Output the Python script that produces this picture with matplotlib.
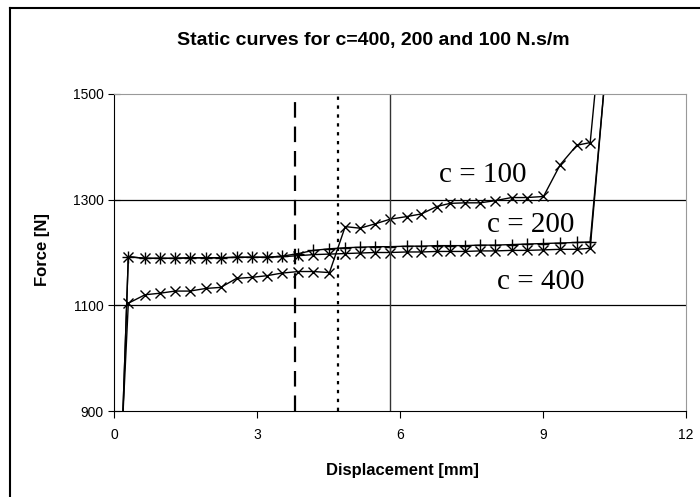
import matplotlib.pyplot as plt
from matplotlib.lines import Line2D

# displacement positions of the markers [mm]
disp = [0.18, 0.30, 0.65, 0.97, 1.28, 1.59, 1.93, 2.24, 2.57, 2.89, 3.20, 3.52,
        3.87, 4.18, 4.52, 4.85, 5.16, 5.47, 5.79, 6.14, 6.45, 6.77, 7.05,
        7.36, 7.68, 7.99, 8.34, 8.66, 9.01, 9.36, 9.71, 9.99]

force_c100 = [880, 1104, 1120, 1123, 1127, 1127, 1132, 1134, 1151, 1153, 1156, 1161,
              1164, 1164, 1162, 1249, 1246, 1254, 1263, 1268, 1273, 1287, 1293,
              1294, 1294, 1298, 1304, 1304, 1306, 1366, 1403, 1408]
force_c200 = [880, 1192, 1189, 1189, 1189, 1190, 1190, 1190, 1191, 1191, 1191, 1193,
              1198, 1204, 1207, 1209, 1210, 1211, 1211, 1212, 1212, 1213, 1213,
              1213, 1214, 1214, 1215, 1216, 1217, 1218, 1219, 1220]
force_c400 = [880, 1192, 1189, 1189, 1189, 1190, 1190, 1190, 1191, 1191, 1191, 1192,
              1194, 1196, 1197, 1198, 1199, 1200, 1200, 1201, 1201, 1202, 1202,
              1202, 1203, 1203, 1204, 1204, 1205, 1206, 1206, 1208]

# where each curve leaves the top of the plot
end_c100 = (10.12, 1530)
end_c200 = (10.30, 1530)
end_c400 = (10.30, 1530)

# vertical reference lines [mm]
vline_dashed = 3.8
vline_dotted = 4.7
vline_solid = 5.8

plt.rcParams['font.family'] = ['Liberation Sans', 'DejaVu Sans']

fig = plt.figure(figsize=(7.0, 4.97), dpi=100)
ax = fig.add_axes([0.1629, 0.173, 0.8171, 0.6379])

ax.plot(disp + [end_c400[0]], force_c400 + [end_c400[1]], color='black', lw=1.0,
        marker='x', ms=7, mew=1.0)
ax.plot(disp + [end_c200[0]], force_c200 + [end_c200[1]], color='black', lw=1.0,
        marker='+', ms=9, mew=1.0)
ax.plot(disp + [end_c100[0]], force_c100 + [end_c100[1]], color='black', lw=1.0,
        marker='x', ms=7, mew=1.0)

ax.axvline(vline_dashed, color='black', lw=1.6, dashes=(7, 4))
ax.axvline(vline_dotted, color='black', lw=1.6, dashes=(1.5, 2.5))
ax.axvline(vline_solid, color='#333333', lw=1.0)

for yg in [1100, 1300]:
    ax.axhline(yg, color='black', lw=0.9, zorder=0.5)

ax.set_xlim(0, 12)
ax.set_ylim(900, 1500)
ax.set_xticks([0, 3, 6, 9, 12])
ax.set_yticks([900, 1100, 1300, 1500])
ax.tick_params(axis='x', direction='out', length=5, width=0.8, labelsize=10, pad=7)
ax.tick_params(axis='y', direction='inout', length=9, width=0.8, labelsize=10, pad=3)

ax.spines['top'].set_color('#999999')
ax.spines['right'].set_color('#999999')
ax.spines['left'].set_color('black')
ax.spines['bottom'].set_color('black')

serif = ['Liberation Serif', 'DejaVu Serif']
ax.text(6.82, 1334, 'c = 100', family=serif, fontsize=21, ha='left', va='baseline')
ax.text(7.82, 1239, 'c = 200', family=serif, fontsize=21, ha='left', va='baseline')
ax.text(8.03, 1131, 'c = 400', family=serif, fontsize=21, ha='left', va='baseline')

fig.text(373 / 700, 1 - 41 / 497, 'Static curves for c=400, 200 and 100 N.s/m',
         ha='center', va='center', fontsize=14, fontweight='bold')
fig.text(402 / 700, 1 - 470 / 497, 'Displacement [mm]', ha='center', va='center',
         fontsize=12, fontweight='bold')
fig.text(42 / 700, 1 - 250 / 497, 'Force [N]', ha='center', va='center',
         fontsize=12, fontweight='bold', rotation=90)

# outer chart border (cut off at right and bottom)
fig.add_artist(Line2D([10 / 700, 1.0], [1 - 8 / 497, 1 - 8 / 497], color='black', lw=1.5))
fig.add_artist(Line2D([10 / 700, 10 / 700], [0.0, 1 - 8 / 497], color='black', lw=1.5))

fig.savefig('out.png', dpi=100)
